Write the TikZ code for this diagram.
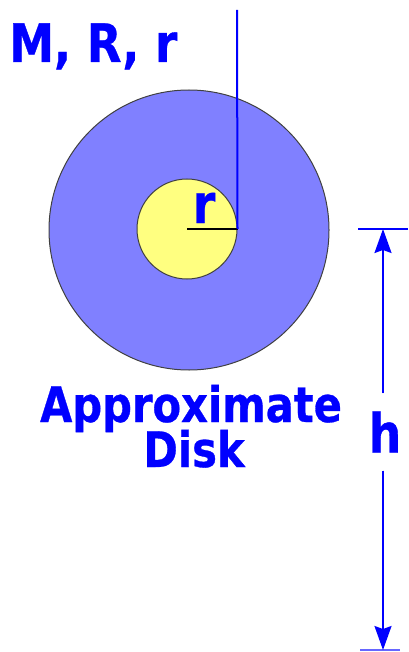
\documentclass[tikz,border=0pt]{standalone}
\usepackage{fontspec}
\setmainfont{DejaVu Sans}[FakeStretch=0.85, BoldFeatures={FakeBold=0.6}]
\usepackage{tikz}
\usetikzlibrary{arrows.meta,positioning}
\usepackage{xcolor}
\definecolor{diskblue}{HTML}{8080FF}
\definecolor{holeyellow}{HTML}{FFFF80}
\definecolor{textblue}{HTML}{0000FF}
\tikzset{
  dkdisk/.style={draw=black!75, circle, fill=diskblue, line width=1pt, inner sep=0pt},
  dkhole/.style={draw=black!75, circle, fill=holeyellow, line width=1pt, inner sep=0pt},
  dktext/.style={text=textblue, font=\bfseries\fontsize{49}{45}\selectfont, inner sep=0pt},
  dkbig/.style={text=textblue, font=\bfseries\fontsize{54}{54}\selectfont, inner sep=0pt},
  dkline/.style={draw=textblue, line width=2pt},
  dkarrow/.style={-{Stealth[length=24pt, width=17pt, inset=3pt]}, draw=textblue, fill=textblue, line width=1.8pt},
}

\begin{document}
\begin{tikzpicture}[x=1pt, y=-1pt]
  \useasboundingbox (0,0) rectangle (408,652);
  \node[dkdisk, minimum size=280pt] (disk) at (189,230) {};
  \node[dkhole, minimum size=100pt] (hole) at (187,229) {};
  \coordinate (linetop) at (237,10);

  \draw[black, line width=2pt] (hole.center) -- (hole.east);
  \draw[dkline] (hole.east) -- (linetop);
  \node[dkbig, anchor=base] (rlabel) at (204,223) {r};

  \node[dktext, font=\bfseries\fontsize{53}{53}\selectfont, anchor=base west] (mass) at (9,62) {M, R, r};
  \node[dktext, anchor=base] (approx) at (191,422) {Approximate};
  \node[dktext, anchor=base] (disklabel) at (194,467) {Disk};

  % height dimension
  \coordinate (htop) at (383,229);
  \coordinate (hbot) at (383,650);
  \draw[dkline] (358,229) -- (408,229);
  \draw[dkline, draw=textblue!60] (360,650) -- (400,650);
  \node[dkbig, minimum height=77pt] (h) at (385,432) {h};
  \draw[dkarrow] (h.north -| htop) -- (htop);
  \draw[dkarrow] (h.south -| hbot) -- (hbot);
\end{tikzpicture}
\end{document}
